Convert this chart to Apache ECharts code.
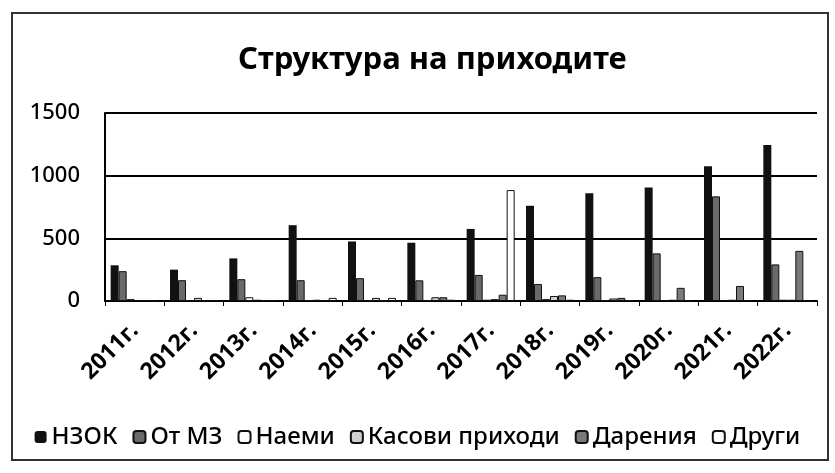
<!DOCTYPE html>
<html>
<head>
<meta charset="utf-8">
<script src="https://cdn.jsdelivr.net/npm/echarts@6/dist/echarts.min.js"></script>
<style>
  body { margin: 0; background: #fff; }
  #main { width: 835px; height: 473px; }
  #frame { position: absolute; left: 11px; top: 12px; width: 814px; height: 445px; border: 2px solid #333; pointer-events: none; }
</style>
</head>
<body>
<div id="main"></div>
<div id="frame"></div>
<script>
// данни, отчетени от графиката
var years = ['2011г.', '2012г.', '2013г.', '2014г.', '2015г.', '2016г.', '2017г.', '2018г.', '2019г.', '2020г.', '2021г.', '2022г.'];
var nzok = [285, 250, 340, 605, 475, 465, 575, 760, 860, 905, 1075, 1245];
var otMz = [238, 166, 174, 166, 182, 165, 208, 136, 190, 380, 835, 292];
var naemi = [15, 5, 30, 8, 5, 8, 10, 15, 8, 5, 5, 10];
var kasovi = [5, 25, 10, 10, 25, 30, 15, 40, 20, 10, 10, 10];
var darenia = [5, 5, 5, 5, 5, 30, 50, 45, 25, 105, 120, 400];
var drugi = [3, 5, 5, 25, 25, 10, 885, 10, 5, 5, 5, 5];
var yTicks = [0, 500, 1000, 1500];

var font = '"Noto Sans", sans-serif';
var myChart = echarts.init(document.getElementById('main'));

function bar(name, data, fill, border) {
    return {
        name: name,
        type: 'bar',
        data: data,
        barWidth: 8,
        barGap: '0%',
        itemStyle: { color: fill, borderColor: border, borderWidth: border ? 1 : 0 }
    };
}

var option = {
    animation: false,
    title: {
        text: 'Структура на приходите',
        left: 233,
        top: 40,
        textStyle: { fontFamily: font, fontSize: 31, fontWeight: 'bold', color: '#000' }
    },
    legend: {
        bottom: 19,
        left: 'center',
        itemWidth: 12,
        itemHeight: 12,
        itemGap: 15,
        textStyle: { fontFamily: font, fontSize: 24, fontWeight: 500, color: '#000' }
    },
    grid: { left: 105, right: 18, top: 113, bottom: 172 },
    xAxis: {
        type: 'category',
        data: years,
        axisLine: { lineStyle: { color: '#000', width: 2 } },
        axisTick: { show: true, lineStyle: { color: '#000' } },
        axisLabel: { rotate: 45, fontFamily: font, fontSize: 23, fontWeight: 'bold', color: '#000', margin: 26 }
    },
    yAxis: {
        type: 'value',
        min: yTicks[0],
        max: yTicks[yTicks.length - 1],
        interval: 500,
        axisLine: { show: true, lineStyle: { color: '#000', width: 2 } },
        splitLine: { lineStyle: { color: '#000', width: 2 } },
        axisLabel: {
            fontFamily: font, fontSize: 22, fontWeight: 500, color: '#000', margin: 25,
            formatter: function (v) { return String(v); }
        }
    },
    series: [
        bar('НЗОК', nzok, '#111'),
        bar('От МЗ', otMz, '#6a6a6a', '#111'),
        bar('Наеми', naemi, '#fff', '#111'),
        bar('Касови приходи', kasovi, '#d0d0d0', '#111'),
        bar('Дарения', darenia, '#7a7a7a', '#111'),
        bar('Други', drugi, '#fff', '#111')
    ]
};
myChart.setOption(option);
</script>
</body>
</html>
